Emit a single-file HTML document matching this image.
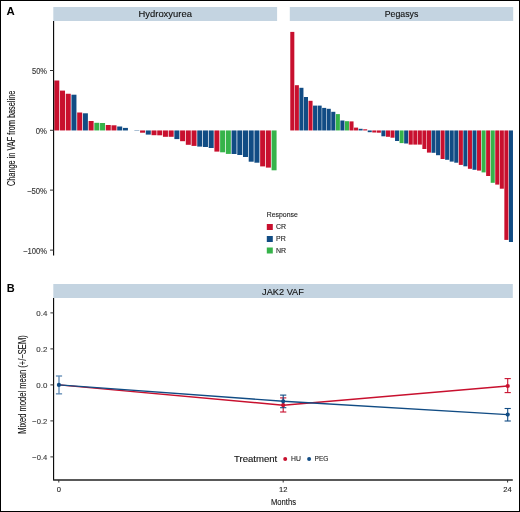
<!DOCTYPE html>
<html><head><meta charset="utf-8"><style>
html,body{margin:0;padding:0;background:#fff;}
svg{display:block;will-change:transform;}
text{font-family:"Liberation Sans",sans-serif;}
</style></head><body>
<svg width="520" height="512" viewBox="0 0 520 512">
<rect x="0.5" y="0.5" width="519" height="511" fill="#fff" stroke="#000" stroke-width="1"/>
<text x="6.6" y="14.7" font-size="11.4" font-weight="bold" fill="#000">A</text>
<text x="6.8" y="292" font-size="11" font-weight="bold" fill="#000">B</text>
<rect x="53.3" y="7" width="223.8" height="14" fill="#c4d4e1"/>
<rect x="289.8" y="7" width="223.4" height="14" fill="#c4d4e1"/>
<text x="165.20" y="17.3" font-size="9.8" text-anchor="middle" fill="#111" stroke="#111" stroke-width="0.12" textLength="53.4" lengthAdjust="spacingAndGlyphs">Hydroxyurea</text>
<text x="401.50" y="17.3" font-size="9.8" text-anchor="middle" fill="#111" stroke="#111" stroke-width="0.12" textLength="33.6" lengthAdjust="spacingAndGlyphs">Pegasys</text>
<rect x="54.30" y="80.50" width="5.00" height="49.95" fill="#c8102e"/>
<rect x="60.02" y="90.60" width="5.00" height="39.85" fill="#c8102e"/>
<rect x="65.74" y="93.75" width="5.00" height="36.70" fill="#c8102e"/>
<rect x="71.45" y="94.70" width="5.00" height="35.75" fill="#114c84"/>
<rect x="77.17" y="112.50" width="5.00" height="17.95" fill="#c8102e"/>
<rect x="82.89" y="113.30" width="5.00" height="17.15" fill="#114c84"/>
<rect x="88.61" y="121.00" width="5.00" height="9.45" fill="#c8102e"/>
<rect x="94.33" y="122.80" width="5.00" height="7.65" fill="#36b34a"/>
<rect x="100.04" y="123.00" width="5.00" height="7.45" fill="#36b34a"/>
<rect x="105.76" y="125.00" width="5.00" height="5.45" fill="#c8102e"/>
<rect x="111.48" y="125.30" width="5.00" height="5.15" fill="#c8102e"/>
<rect x="117.20" y="126.50" width="5.00" height="3.95" fill="#114c84"/>
<rect x="122.92" y="127.90" width="5.00" height="2.55" fill="#114c84"/>
<rect x="134.35" y="130.45" width="5.00" height="0.35" fill="#114c84"/>
<rect x="140.07" y="130.45" width="5.00" height="2.25" fill="#c8102e"/>
<rect x="145.79" y="130.45" width="5.00" height="4.15" fill="#114c84"/>
<rect x="151.51" y="130.45" width="5.00" height="4.75" fill="#c8102e"/>
<rect x="157.22" y="130.45" width="5.00" height="4.85" fill="#c8102e"/>
<rect x="162.94" y="130.45" width="5.00" height="6.35" fill="#c8102e"/>
<rect x="168.66" y="130.45" width="5.00" height="6.35" fill="#c8102e"/>
<rect x="174.38" y="130.45" width="5.00" height="8.65" fill="#114c84"/>
<rect x="180.10" y="130.45" width="5.00" height="10.75" fill="#c8102e"/>
<rect x="185.81" y="130.45" width="5.00" height="14.35" fill="#c8102e"/>
<rect x="191.53" y="130.45" width="5.00" height="15.45" fill="#c8102e"/>
<rect x="197.25" y="130.45" width="5.00" height="16.15" fill="#114c84"/>
<rect x="202.97" y="130.45" width="5.00" height="16.55" fill="#114c84"/>
<rect x="208.69" y="130.45" width="5.00" height="17.55" fill="#114c84"/>
<rect x="214.40" y="130.45" width="5.00" height="21.15" fill="#c8102e"/>
<rect x="220.12" y="130.45" width="5.00" height="21.85" fill="#36b34a"/>
<rect x="225.84" y="130.45" width="5.00" height="23.45" fill="#36b34a"/>
<rect x="231.56" y="130.45" width="5.00" height="23.55" fill="#114c84"/>
<rect x="237.28" y="130.45" width="5.00" height="24.55" fill="#114c84"/>
<rect x="242.99" y="130.45" width="5.00" height="26.55" fill="#114c84"/>
<rect x="248.71" y="130.45" width="5.00" height="31.25" fill="#114c84"/>
<rect x="254.43" y="130.45" width="5.00" height="32.25" fill="#114c84"/>
<rect x="260.15" y="130.45" width="5.00" height="35.95" fill="#c8102e"/>
<rect x="265.87" y="130.45" width="5.00" height="37.15" fill="#c8102e"/>
<rect x="271.58" y="130.45" width="5.00" height="39.85" fill="#36b34a"/>
<rect x="290.28" y="31.90" width="4.05" height="98.55" fill="#c8102e"/>
<rect x="294.83" y="85.20" width="4.05" height="45.25" fill="#c8102e"/>
<rect x="299.39" y="87.80" width="4.05" height="42.65" fill="#114c84"/>
<rect x="303.94" y="97.00" width="4.05" height="33.45" fill="#114c84"/>
<rect x="308.50" y="100.80" width="4.05" height="29.65" fill="#c8102e"/>
<rect x="313.05" y="105.60" width="4.05" height="24.85" fill="#114c84"/>
<rect x="317.61" y="105.60" width="4.05" height="24.85" fill="#114c84"/>
<rect x="322.16" y="107.90" width="4.05" height="22.55" fill="#114c84"/>
<rect x="326.72" y="108.80" width="4.05" height="21.65" fill="#114c84"/>
<rect x="331.27" y="111.80" width="4.05" height="18.65" fill="#114c84"/>
<rect x="335.83" y="114.10" width="4.05" height="16.35" fill="#36b34a"/>
<rect x="340.38" y="120.50" width="4.05" height="9.95" fill="#114c84"/>
<rect x="344.94" y="121.20" width="4.05" height="9.25" fill="#36b34a"/>
<rect x="349.49" y="121.40" width="4.05" height="9.05" fill="#c8102e"/>
<rect x="354.05" y="127.60" width="4.05" height="2.85" fill="#c8102e"/>
<rect x="358.60" y="128.80" width="4.05" height="1.65" fill="#114c84"/>
<rect x="363.16" y="129.30" width="4.05" height="1.15" fill="#c8102e"/>
<rect x="367.71" y="130.45" width="4.05" height="1.75" fill="#114c84"/>
<rect x="372.27" y="130.45" width="4.05" height="2.05" fill="#c8102e"/>
<rect x="376.82" y="130.45" width="4.05" height="2.25" fill="#c8102e"/>
<rect x="381.38" y="130.45" width="4.05" height="5.85" fill="#114c84"/>
<rect x="385.93" y="130.45" width="4.05" height="6.35" fill="#c8102e"/>
<rect x="390.49" y="130.45" width="4.05" height="7.25" fill="#c8102e"/>
<rect x="395.04" y="130.45" width="4.05" height="10.55" fill="#114c84"/>
<rect x="399.60" y="130.45" width="4.05" height="12.65" fill="#36b34a"/>
<rect x="404.15" y="130.45" width="4.05" height="13.05" fill="#114c84"/>
<rect x="408.71" y="130.45" width="4.05" height="14.15" fill="#c8102e"/>
<rect x="413.26" y="130.45" width="4.05" height="14.15" fill="#c8102e"/>
<rect x="417.82" y="130.45" width="4.05" height="14.15" fill="#c8102e"/>
<rect x="422.37" y="130.45" width="4.05" height="18.55" fill="#c8102e"/>
<rect x="426.93" y="130.45" width="4.05" height="22.15" fill="#c8102e"/>
<rect x="431.48" y="130.45" width="4.05" height="22.35" fill="#114c84"/>
<rect x="436.04" y="130.45" width="4.05" height="24.75" fill="#114c84"/>
<rect x="440.59" y="130.45" width="4.05" height="28.55" fill="#c8102e"/>
<rect x="445.15" y="130.45" width="4.05" height="29.35" fill="#114c84"/>
<rect x="449.70" y="130.45" width="4.05" height="31.15" fill="#114c84"/>
<rect x="454.25" y="130.45" width="4.05" height="32.25" fill="#114c84"/>
<rect x="458.81" y="130.45" width="4.05" height="34.45" fill="#c8102e"/>
<rect x="463.37" y="130.45" width="4.05" height="35.85" fill="#114c84"/>
<rect x="467.92" y="130.45" width="4.05" height="38.35" fill="#c8102e"/>
<rect x="472.48" y="130.45" width="4.05" height="39.35" fill="#114c84"/>
<rect x="477.03" y="130.45" width="4.05" height="40.15" fill="#c8102e"/>
<rect x="481.59" y="130.45" width="4.05" height="41.95" fill="#36b34a"/>
<rect x="486.14" y="130.45" width="4.05" height="45.55" fill="#c8102e"/>
<rect x="490.70" y="130.45" width="4.05" height="52.35" fill="#36b34a"/>
<rect x="495.25" y="130.45" width="4.05" height="54.15" fill="#c8102e"/>
<rect x="499.81" y="130.45" width="4.05" height="58.25" fill="#c8102e"/>
<rect x="504.36" y="130.45" width="4.05" height="109.45" fill="#c8102e"/>
<rect x="508.92" y="130.45" width="4.05" height="111.55" fill="#114c84"/>
<line x1="53.6" y1="21" x2="53.6" y2="255.5" stroke="#000" stroke-width="1.1"/>
<line x1="50" y1="70.5" x2="53.6" y2="70.5" stroke="#333" stroke-width="1"/>
<text x="47" y="74.30" font-size="8.6" text-anchor="end" fill="#3a3a3a" stroke="#3a3a3a" stroke-width="0.15" textLength="15" lengthAdjust="spacingAndGlyphs">50%</text>
<line x1="50" y1="130.3" x2="53.6" y2="130.3" stroke="#333" stroke-width="1"/>
<text x="47" y="134.10" font-size="8.6" text-anchor="end" fill="#3a3a3a" stroke="#3a3a3a" stroke-width="0.15" textLength="11.2" lengthAdjust="spacingAndGlyphs">0%</text>
<line x1="50" y1="190.1" x2="53.6" y2="190.1" stroke="#333" stroke-width="1"/>
<text x="47" y="193.90" font-size="8.6" text-anchor="end" fill="#3a3a3a" stroke="#3a3a3a" stroke-width="0.15" textLength="20" lengthAdjust="spacingAndGlyphs">−50%</text>
<line x1="50" y1="250.1" x2="53.6" y2="250.1" stroke="#333" stroke-width="1"/>
<text x="47" y="253.90" font-size="8.6" text-anchor="end" fill="#3a3a3a" stroke="#3a3a3a" stroke-width="0.15" textLength="24" lengthAdjust="spacingAndGlyphs">−100%</text>
<text transform="translate(15,138.4) rotate(-90)" font-size="10.2" text-anchor="middle" fill="#111" stroke="#111" stroke-width="0.1" textLength="95.4" lengthAdjust="spacingAndGlyphs">Change in VAF from baseline</text>
<text x="266.8" y="217.4" font-size="7" fill="#1a1a1a" stroke="#1a1a1a" stroke-width="0.1" textLength="31" lengthAdjust="spacingAndGlyphs">Response</text>
<rect x="266.8" y="224" width="6" height="6" fill="#c8102e"/>
<text x="276" y="229.20" font-size="7" fill="#1a1a1a" stroke="#1a1a1a" stroke-width="0.1">CR</text>
<rect x="266.8" y="236" width="6" height="6" fill="#114c84"/>
<text x="276" y="241.20" font-size="7" fill="#1a1a1a" stroke="#1a1a1a" stroke-width="0.1">PR</text>
<rect x="266.8" y="247.5" width="6" height="6" fill="#36b34a"/>
<text x="276" y="252.70" font-size="7" fill="#1a1a1a" stroke="#1a1a1a" stroke-width="0.1">NR</text>
<rect x="53.3" y="284" width="459.5" height="14" fill="#c4d4e1"/>
<text x="283" y="295.1" font-size="9.5" text-anchor="middle" fill="#111" stroke="#111" stroke-width="0.12" textLength="41.8" lengthAdjust="spacingAndGlyphs">JAK2 VAF</text>
<line x1="53.6" y1="298" x2="53.6" y2="480" stroke="#000" stroke-width="1.1"/>
<line x1="53.1" y1="480" x2="512.8" y2="480" stroke="#222" stroke-width="1.3"/>
<line x1="50.4" y1="312.9" x2="53.6" y2="312.9" stroke="#333" stroke-width="1"/>
<text x="47.3" y="315.60" font-size="8" text-anchor="end" fill="#3a3a3a" stroke="#3a3a3a" stroke-width="0.12" textLength="11" lengthAdjust="spacingAndGlyphs">0.4</text>
<line x1="50.4" y1="348.9" x2="53.6" y2="348.9" stroke="#333" stroke-width="1"/>
<text x="47.3" y="351.60" font-size="8" text-anchor="end" fill="#3a3a3a" stroke="#3a3a3a" stroke-width="0.12" textLength="11" lengthAdjust="spacingAndGlyphs">0.2</text>
<line x1="50.4" y1="384.9" x2="53.6" y2="384.9" stroke="#333" stroke-width="1"/>
<text x="47.3" y="387.60" font-size="8" text-anchor="end" fill="#3a3a3a" stroke="#3a3a3a" stroke-width="0.12" textLength="11" lengthAdjust="spacingAndGlyphs">0.0</text>
<line x1="50.4" y1="420.9" x2="53.6" y2="420.9" stroke="#333" stroke-width="1"/>
<text x="47.3" y="423.60" font-size="8" text-anchor="end" fill="#3a3a3a" stroke="#3a3a3a" stroke-width="0.12" textLength="15" lengthAdjust="spacingAndGlyphs">−0.2</text>
<line x1="50.4" y1="456.9" x2="53.6" y2="456.9" stroke="#333" stroke-width="1"/>
<text x="47.3" y="459.60" font-size="8" text-anchor="end" fill="#3a3a3a" stroke="#3a3a3a" stroke-width="0.12" textLength="15" lengthAdjust="spacingAndGlyphs">−0.4</text>
<line x1="58.8" y1="480" x2="58.8" y2="482.5" stroke="#333" stroke-width="1"/>
<text x="58.8" y="492.2" font-size="7.6" text-anchor="middle" fill="#262626" stroke="#262626" stroke-width="0.12">0</text>
<line x1="283.2" y1="480" x2="283.2" y2="482.5" stroke="#333" stroke-width="1"/>
<text x="283.2" y="492.2" font-size="7.6" text-anchor="middle" fill="#262626" stroke="#262626" stroke-width="0.12">12</text>
<line x1="507.6" y1="480" x2="507.6" y2="482.5" stroke="#333" stroke-width="1"/>
<text x="507.6" y="492.2" font-size="7.6" text-anchor="middle" fill="#262626" stroke="#262626" stroke-width="0.12">24</text>
<text x="283.5" y="505" font-size="9.4" text-anchor="middle" fill="#111" stroke="#111" stroke-width="0.1" textLength="25" lengthAdjust="spacingAndGlyphs">Months</text>
<text transform="translate(26.4,384.5) rotate(-90)" font-size="10.2" text-anchor="middle" fill="#111" stroke="#111" stroke-width="0.1" textLength="98.5" lengthAdjust="spacingAndGlyphs">Mixed model mean (+/−SEM)</text>
<g stroke="#c8102e" stroke-width="1.1"><line x1="283.2" y1="397.9" x2="283.2" y2="412.0"/><line x1="280.09999999999997" y1="397.9" x2="286.3" y2="397.9"/><line x1="280.09999999999997" y1="412.0" x2="286.3" y2="412.0"/></g>
<g stroke="#c8102e" stroke-width="1.1"><line x1="507.7" y1="378.6" x2="507.7" y2="392.6"/><line x1="504.59999999999997" y1="378.6" x2="510.8" y2="378.6"/><line x1="504.59999999999997" y1="392.6" x2="510.8" y2="392.6"/></g>
<g stroke="#5d88b3" stroke-width="1.3"><line x1="59.0" y1="376.0" x2="59.0" y2="393.85"/><line x1="55.9" y1="376.0" x2="62.1" y2="376.0"/><line x1="55.9" y1="393.85" x2="62.1" y2="393.85"/></g>
<g stroke="#114c84" stroke-width="1.1"><line x1="283.2" y1="395.1" x2="283.2" y2="407.7"/><line x1="280.09999999999997" y1="395.1" x2="286.3" y2="395.1"/><line x1="280.09999999999997" y1="407.7" x2="286.3" y2="407.7"/></g>
<g stroke="#114c84" stroke-width="1.1"><line x1="507.7" y1="408.5" x2="507.7" y2="421.0"/><line x1="504.59999999999997" y1="408.5" x2="510.8" y2="408.5"/><line x1="504.59999999999997" y1="421.0" x2="510.8" y2="421.0"/></g>
<polyline points="58.9,384.9 283.2,405.2 507.7,386.0" fill="none" stroke="#c8102e" stroke-width="1.4"/>
<polyline points="58.9,384.9 283.2,401.3 507.7,414.6" fill="none" stroke="#114c84" stroke-width="1.4"/>
<circle cx="283.2" cy="405.2" r="2.1" fill="#c8102e"/>
<circle cx="507.7" cy="386.0" r="2.1" fill="#c8102e"/>
<circle cx="58.9" cy="384.9" r="2.1" fill="#114c84"/>
<circle cx="283.2" cy="401.3" r="2.1" fill="#114c84"/>
<circle cx="507.7" cy="414.6" r="2.1" fill="#114c84"/>
<text x="234" y="461.9" font-size="9.8" fill="#111" stroke="#111" stroke-width="0.12" textLength="43.3" lengthAdjust="spacingAndGlyphs">Treatment</text>
<circle cx="285.2" cy="459" r="2" fill="#c8102e"/>
<text x="291" y="461.4" font-size="7.8" fill="#1a1a1a" stroke="#1a1a1a" stroke-width="0.12" textLength="9.8" lengthAdjust="spacingAndGlyphs">HU</text>
<circle cx="309.1" cy="459" r="2" fill="#114c84"/>
<text x="314.6" y="461.4" font-size="7.8" fill="#1a1a1a" stroke="#1a1a1a" stroke-width="0.12" textLength="13.9" lengthAdjust="spacingAndGlyphs">PEG</text>
</svg>
</body></html>
